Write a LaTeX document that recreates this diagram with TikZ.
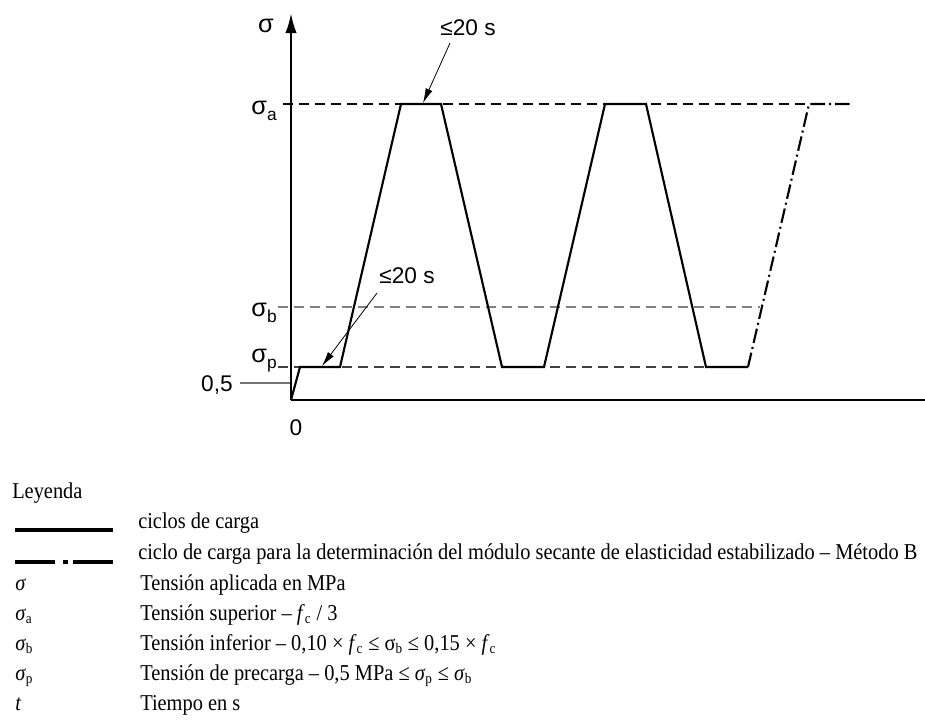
\documentclass[tikz,border=0pt]{standalone}
\usepackage{fontspec}
\setmainfont[FakeStretch=0.9]{Liberation Serif}
\newfontfamily\grfont{Liberation Sans}
\usetikzlibrary{arrows.meta}
\newcommand{\grsub}[1]{\raisebox{-0.5ex}{\fontsize{13}{14}\selectfont #1}}
\newcommand{\grsig}{{\fontsize{19}{20}\selectfont σ}}
\newcommand{\lgsub}[1]{\textsubscript{\fontsize{11}{12}\selectfont #1}}
\newcommand{\fcc}{\textit{f}\lgsub{c}}
\begin{document}
\begin{tikzpicture}[x=0.75pt,y=-0.75pt,
  axisline/.style={line width=1.9pt},
  curveline/.style={line width=1.6pt, line join=miter},
  dashdotline/.style={line width=1.6pt, dash pattern=on 11pt off 3pt on 1.5pt off 3pt},
  lvla/.style={line width=1pt, dash pattern=on 7.5pt off 4.5pt},
  lvlb/.style={line width=0.8pt, draw=black!50, dash pattern=on 7.5pt off 4.5pt},
  lvlp/.style={line width=1.1pt, draw=black!75, dash pattern=on 7.5pt off 4.5pt},
  pointer/.style={line width=0.6pt, -{Latex[length=11pt,width=5.5pt]}},
  legline/.style={line width=2.8pt},
  grlabel/.style={inner sep=0pt, font=\grfont\fontsize{17}{18}\selectfont},
  legtext/.style={inner sep=0pt, anchor=base west, font=\fontsize{17}{19}\selectfont},
]
\useasboundingbox (0,0) rectangle (925,722);

% coordinates
\coordinate (o) at (291,400);
\coordinate (ytop) at (291,13);
\coordinate (xend) at (925,400);
\coordinate (p1) at (300,367);
\coordinate (p2) at (340,367);
\coordinate (p3) at (401,104);
\coordinate (p4) at (441,104);
\coordinate (p5) at (502,367);
\coordinate (p6) at (544,367);
\coordinate (p7) at (605,104);
\coordinate (p8) at (646,104);
\coordinate (p9) at (706,367);
\coordinate (p10) at (748,367);
\coordinate (p11) at (809,104);
\coordinate (p12) at (852,104);
\coordinate (la0) at (283,104);
\coordinate (lb0) at (278,307);
\coordinate (lb1) at (760,307);
\coordinate (lp0) at (278,367);
\coordinate (h0) at (240,383);
\coordinate (h1) at (291,383);

% level lines
\draw[lvla] (la0) -- (p11);
\draw[lvlb] (lb0) -- (lb1);
\draw[lvlp] (lp0) -- (p10);
\draw[line width=0.8pt, black!55] (h0) -- (h1);

% axes
\draw[axisline] (xend) -- (o);
\draw[axisline, -{Latex[length=15pt,width=8.5pt]}] (o) -- (ytop);

% load cycles
\draw[curveline] (o) -- (p1) -- (p2) -- (p3) -- (p4) -- (p5) -- (p6) -- (p7) -- (p8) -- (p9) -- (p10);
\draw[dashdotline] (p10) -- (p11) -- (p12);

% labels
\node[grlabel] (sig) at (266,26) {\grsig};
\node[grlabel, anchor=east] (siga) at (277,111) {\grsig\grsub{a}};
\node[grlabel, anchor=east] (sigb) at (277,313) {\grsig\grsub{b}};
\node[grlabel, anchor=east] (sigp) at (277,361) {\grsig\grsub{p}};
\node[grlabel, anchor=east] (half) at (233,385) {0,5};
\node[grlabel] (zero) at (296,428) {0};
\node[grlabel] (t1) at (468,28) {≤20 s};
\node[grlabel] (t2) at (407,276) {≤20 s};
\coordinate (a1s) at (450,43);
\coordinate (a1e) at (423,103);
\coordinate (a2s) at (377,293);
\coordinate (a2e) at (322,366);
\draw[pointer] (a1s) -- (a1e);
\draw[pointer] (a2s) -- (a2e);

% legend
\node[legtext] (ley) at (12,498) {Leyenda};
\coordinate (ls0) at (15,530);
\coordinate (ls1) at (113,530);
\draw[legline] (ls0) -- (ls1);
\node[legtext] (l1) at (138,528) {ciclos de carga};
\coordinate (ld0) at (15,562);
\coordinate (ld1) at (55,562);
\coordinate (ld2) at (63,562);
\coordinate (ld3) at (68,562);
\coordinate (ld4) at (73,562);
\coordinate (ld5) at (113,562);
\draw[legline] (ld0) -- (ld1);
\draw[legline] (ld2) -- (ld3);
\draw[legline] (ld4) -- (ld5);
\node[legtext] (l2) at (138,559) {ciclo de carga para la determinación del módulo secante de elasticidad estabilizado – Método B};
\node[legtext] (s1) at (15,590) {\textit{σ}};
\node[legtext] (l3) at (140,590) {Tensión aplicada en MPa};
\node[legtext] (s2) at (15,620) {\textit{σ}\lgsub{a}};
\node[legtext] (l4) at (140,620) {Tensión superior – \fcc{} / 3};
\node[legtext] (s3) at (15,650) {\textit{σ}\lgsub{b}};
\node[legtext] (l5) at (140,650) {Tensión inferior – 0,10 × \fcc{} ≤ σ\lgsub{b} ≤ 0,15 × \fcc};
\node[legtext] (s4) at (15,680) {\textit{σ}\lgsub{p}};
\node[legtext] (l6) at (140,680) {Tensión de precarga – 0,5 MPa ≤ \textit{σ}\lgsub{p} ≤ \textit{σ}\lgsub{b}};
\node[legtext] (s5) at (15,710) {\textit{t}};
\node[legtext] (l7) at (140,710) {Tiempo en s};
\end{tikzpicture}
\end{document}
